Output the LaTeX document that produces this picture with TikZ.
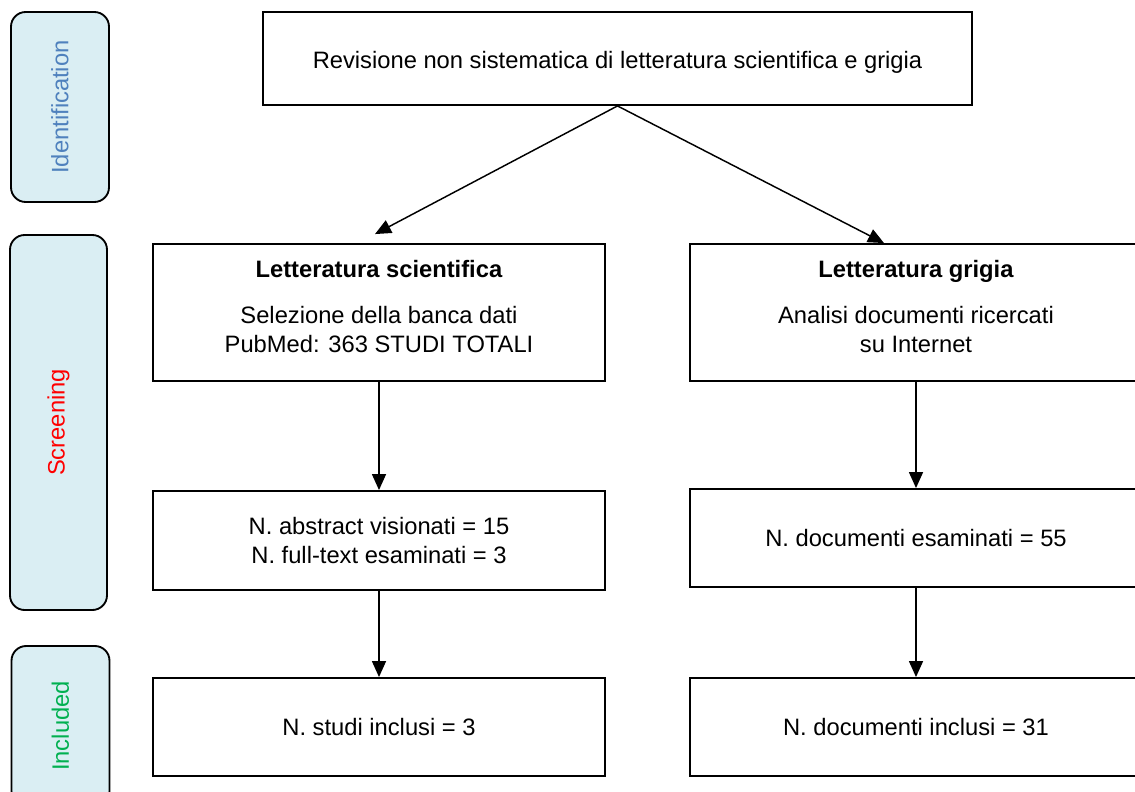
\documentclass[tikz,border=0pt]{standalone}
\usepackage{fontspec}
\setmainfont{Liberation Sans}
\usetikzlibrary{arrows.meta}

\definecolor{phasefill}{RGB}{218,238,243}
\definecolor{idblue}{RGB}{79,129,189}
\definecolor{incgreen}{RGB}{0,176,80}

\tikzset{
  box/.style={draw, line width=1.4pt, fill=white, align=center, inner sep=0pt,
    font=\fontsize{17.8}{21.75}\selectfont},
  phase/.style={draw, line width=1.4pt, rounded corners=11pt, fill=phasefill,
    inner sep=0pt, rotate=90, font=\fontsize{17.8}{21.75}\selectfont},
  flow/.style={line width=1.1pt, -{Triangle[length=12pt,width=10.5pt]}}
}

\begin{document}
\begin{tikzpicture}
\begin{scope}[x=0.75pt, y=-0.75pt]
\useasboundingbox (0,0) rectangle (1135,792);

% phases
\node[phase, minimum width=142.5pt, minimum height=73.5pt, text=idblue] (ident) at (60,107) {Identification};
\node[phase, minimum width=281.25pt, minimum height=72.75pt, text=red] (screen) at (58.5,422.5) {Screening};
\node[phase, minimum width=120pt, minimum height=73.5pt, text=incgreen] (incl) at (60.5,726) {Included};

% boxes
\node[box, minimum width=531.75pt, minimum height=69.75pt, text height=19pt] (rev) at (617.5,58.5) {Revisione non sistematica di letteratura scientifica e grigia};
\node[box, minimum width=339pt, minimum height=102.75pt, text depth=9pt] (litsci) at (379,312.5)
  {\textbf{Letteratura scientifica}\\[12.75pt] Selezione della banca dati\\ PubMed: 363 STUDI TOTALI};
\node[box, minimum width=339pt, minimum height=102.75pt, text depth=9pt] (litgri) at (916,312.5)
  {\textbf{Letteratura grigia}\\[12.75pt] Analisi documenti ricercati\\ su Internet};
\node[box, minimum width=339pt, minimum height=74.25pt] (abssci) at (379,540.5)
  {N. abstract visionati = 15\\ N. full-text esaminati = 3};
\node[box, minimum width=339pt, minimum height=73.5pt] (docgri) at (916,538) {N. documenti esaminati = 55};
\node[box, minimum width=339pt, minimum height=73.5pt] (incsci) at (379,727) {N. studi inclusi = 3};
\node[box, minimum width=339pt, minimum height=73.5pt] (incgri) at (916,727) {N. documenti inclusi = 31};

% arrows
\draw[flow] (rev.south) -- ([xshift=-3pt, yshift=6.75pt]litsci.north);
\draw[flow] (rev.south) -- ([xshift=-24pt]litgri.north);
\draw[flow] (litsci) -- (abssci);
\draw[flow] (litgri) -- (docgri);
\draw[flow] (abssci) -- (incsci);
\draw[flow] (docgri) -- (incgri);
\end{scope}
\end{tikzpicture}
\end{document}
